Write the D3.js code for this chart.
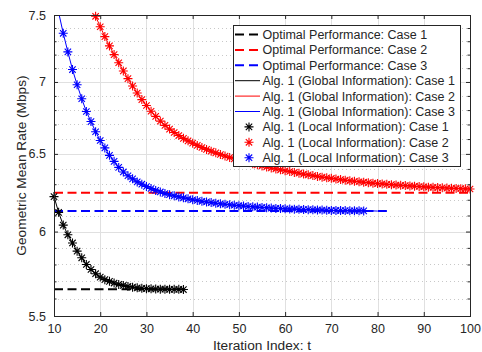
<!DOCTYPE html>
<html>
<head>
<meta charset="utf-8">
<script src="https://cdn.jsdelivr.net/npm/d3@7"></script>
<style>
  body { margin: 0; background: #fff; }
  text { font-family: "Liberation Sans", Arial, sans-serif; fill: #262626; }
</style>
</head>
<body>
<div class="chart"></div>
<script>
// value at each iteration, starting at the given index
const case1Start = 10;
const case1Rate = [6.22, 6.12, 6.04, 5.98, 5.93, 5.88, 5.84, 5.80, 5.77, 5.745,
  5.725, 5.71, 5.70, 5.69, 5.682, 5.676, 5.67, 5.666, 5.662, 5.659,
  5.657, 5.656, 5.655, 5.654, 5.654, 5.653, 5.653, 5.653, 5.652];

const case2Start = 17;
const case2Rate = [7.69, 7.59, 7.49, 7.41, 7.335, 7.265, 7.20, 7.14, 7.08, 7.024,
  6.971, 6.921, 6.874, 6.832, 6.792, 6.756, 6.723, 6.694, 6.668, 6.645,
  6.624, 6.605, 6.588, 6.572, 6.557, 6.543, 6.53, 6.518, 6.507, 6.496,
  6.486, 6.476, 6.467, 6.458, 6.45, 6.442, 6.434, 6.427, 6.42, 6.413,
  6.406, 6.40, 6.394, 6.388, 6.383, 6.377, 6.372, 6.366, 6.361, 6.356,
  6.351, 6.346, 6.342, 6.338, 6.334, 6.33, 6.326, 6.322, 6.319, 6.316,
  6.313, 6.31, 6.307, 6.304, 6.302, 6.299, 6.297, 6.295, 6.293, 6.291,
  6.289, 6.287, 6.285, 6.283, 6.281, 6.28, 6.278, 6.277, 6.275, 6.274,
  6.273, 6.271, 6.27, 6.269];

const case3Start = 10;
const case3Rate = [7.69, 7.52, 7.36, 7.22, 7.09, 6.98, 6.88, 6.79, 6.72, 6.65,
  6.59, 6.54, 6.49, 6.45, 6.41, 6.38, 6.355, 6.335, 6.315, 6.30,
  6.285, 6.272, 6.26, 6.25, 6.24, 6.232, 6.225, 6.218, 6.212, 6.206,
  6.20, 6.195, 6.19, 6.186, 6.182, 6.178, 6.174, 6.171, 6.168, 6.165,
  6.162, 6.16, 6.157, 6.155, 6.153, 6.151, 6.149, 6.147, 6.145, 6.144,
  6.142, 6.141, 6.14, 6.139, 6.138, 6.137, 6.136, 6.135, 6.134, 6.133,
  6.132, 6.132, 6.131, 6.131, 6.13, 6.13, 6.13, 6.129, 6.129, 6.129,
  6.128, 6.128, 6.128];
const case3LocalEnd = 77;

// optimal levels and how far each dashed line runs
const optimalRate = [5.653, 6.245, 6.128];
const optimalEnd = [38, 100, 82];
const caseColors = ["#000000", "#ff0000", "#0000ff"];

const xTicks = [10, 20, 30, 40, 50, 60, 70, 80, 90, 100];
const yTicks = [5.5, 6, 6.5, 7, 7.5];
const yMinor = [5.6, 5.7, 5.8, 5.9, 6.1, 6.2, 6.3, 6.4, 6.6, 6.7, 6.8, 6.9, 7.1, 7.2, 7.3, 7.4];

const legendLabels = [
  "Optimal Performance: Case 1", "Optimal Performance: Case 2", "Optimal Performance: Case 3",
  "Alg. 1 (Global Information): Case 1", "Alg. 1 (Global Information): Case 2", "Alg. 1 (Global Information): Case 3",
  "Alg. 1 (Local Information): Case 1", "Alg. 1 (Local Information): Case 2", "Alg. 1 (Local Information): Case 3"
];

var width = 482, height = 352;
var pLeft = 54, pRight = 470, pTop = 15, pBottom = 316;

var svg = d3.select(".chart").append("svg")
  .attr("width", width).attr("height", height);

var x = d3.scaleLinear().domain([10, 100]).range([pLeft, pRight]);
var y = d3.scaleLog().domain([5.5, 7.5]).range([pBottom, pTop]);

// grid
var grid = svg.append("g");
grid.selectAll(".vg").data(xTicks.slice(1, -1)).enter().append("line")
  .attr("x1", d => Math.round(x(d)) + 0.5).attr("x2", d => Math.round(x(d)) + 0.5)
  .attr("y1", pTop).attr("y2", pBottom)
  .attr("stroke", "#e0e0e0").attr("stroke-width", 1);
grid.selectAll(".mg").data(yMinor).enter().append("line")
  .attr("x1", pLeft).attr("x2", pRight)
  .attr("y1", d => Math.round(y(d)) + 0.5).attr("y2", d => Math.round(y(d)) + 0.5)
  .attr("stroke", "#c8c8c8").attr("stroke-width", 1).attr("stroke-dasharray", "1,3");
grid.selectAll(".hg").data(yTicks.slice(1, -1)).enter().append("line")
  .attr("x1", pLeft).attr("x2", pRight)
  .attr("y1", d => Math.round(y(d)) + 0.5).attr("y2", d => Math.round(y(d)) + 0.5)
  .attr("stroke", "#e0e0e0").attr("stroke-width", 1);

// series
svg.append("clipPath").attr("id", "plot").append("rect")
  .attr("x", pLeft).attr("y", pTop).attr("width", pRight - pLeft).attr("height", pBottom - pTop);

var plot = svg.append("g").attr("clip-path", "url(#plot)");

var series = [
  { start: case1Start, values: case1Rate, localEnd: 38 },
  { start: case2Start, values: case2Rate, localEnd: 100 },
  { start: case3Start, values: case3Rate, localEnd: case3LocalEnd }
].map(s => ({
  points: s.values.map((v, i) => ({ t: s.start + i, v: v })),
  localEnd: s.localEnd
}));

// optimal performance (dashed)
optimalRate.forEach((v, k) => {
  plot.append("line")
    .attr("x1", x(10)).attr("x2", x(optimalEnd[k]))
    .attr("y1", y(v)).attr("y2", y(v))
    .attr("stroke", caseColors[k]).attr("stroke-width", 2)
    .attr("stroke-dasharray", "9,4.5");
});

// global information (solid)
var line = d3.line().x(d => x(d.t)).y(d => y(d.v));
series.forEach((s, k) => {
  plot.append("path").datum(s.points)
    .attr("d", line).attr("fill", "none")
    .attr("stroke", caseColors[k]).attr("stroke-width", 1);
});

// local information (asterisks)
var star = "M-4.5,0H4.5M0,-4.5V4.5M-3.2,-3.2L3.2,3.2M-3.2,3.2L3.2,-3.2";
series.forEach((s, k) => {
  svg.append("g").selectAll("path")
    .data(s.points.filter(d => d.t <= s.localEnd && d.v <= 7.5))
    .enter().append("path")
    .attr("d", star)
    .attr("transform", d => "translate(" + x(d.t) + "," + y(d.v) + ")")
    .attr("fill", "none").attr("stroke", caseColors[k]).attr("stroke-width", 1.1);
});

// axes box and ticks (MATLAB style, inward)
var axisColor = "#262626";
svg.append("g").attr("transform", "translate(0," + pBottom + ")")
  .call(d3.axisBottom(x).tickValues(xTicks).tickSizeInner(-4).tickSizeOuter(0).tickPadding(8))
  .call(g => g.selectAll("text").attr("font-size", "12.5px").style("fill", axisColor));
svg.append("g").attr("transform", "translate(0," + pTop + ")")
  .call(d3.axisTop(x).tickValues(xTicks).tickSizeInner(-4).tickSizeOuter(0).tickFormat(""));
svg.append("g").attr("transform", "translate(" + pLeft + ",0)")
  .call(d3.axisLeft(y).tickValues(yTicks).tickSizeInner(-4).tickSizeOuter(0).tickPadding(8)
    .tickFormat(d3.format("~g")))
  .call(g => g.selectAll("text").attr("font-size", "12.5px").style("fill", axisColor));
svg.append("g").attr("transform", "translate(" + pRight + ",0)")
  .call(d3.axisRight(y).tickValues(yTicks).tickSizeInner(-4).tickSizeOuter(0).tickFormat(""));
svg.append("g").attr("transform", "translate(" + pLeft + ",0)")
  .call(d3.axisLeft(y).tickValues(yMinor).tickSizeInner(-2.5).tickSizeOuter(0).tickFormat(""));
svg.append("g").attr("transform", "translate(" + pRight + ",0)")
  .call(d3.axisRight(y).tickValues(yMinor).tickSizeInner(-2.5).tickSizeOuter(0).tickFormat(""));
svg.selectAll(".domain").remove();
svg.selectAll(".tick line").attr("stroke", axisColor);
svg.selectAll(".tick text").attr("font-family", "Liberation Sans, Arial, sans-serif");

svg.append("rect")
  .attr("x", pLeft + 0.5).attr("y", pTop + 0.5)
  .attr("width", pRight - pLeft).attr("height", pBottom - pTop)
  .attr("fill", "none").attr("stroke", axisColor).attr("stroke-width", 1);

// axis labels
svg.append("text")
  .attr("x", (pLeft + pRight) / 2).attr("y", 350)
  .attr("text-anchor", "middle").attr("font-size", "13.7px")
  .text("Iteration Index: t");
svg.append("text")
  .attr("transform", "translate(26," + (pTop + pBottom) / 2 + ") rotate(-90)")
  .attr("text-anchor", "middle").attr("font-size", "13.7px")
  .text("Geometric Mean Rate (Mbps)");

// legend
var lg = svg.append("g").attr("transform", "translate(233,25)");
lg.append("rect").attr("x", 0.5).attr("y", 0.5).attr("width", 227).attr("height", 141)
  .attr("fill", "#fff").attr("stroke", axisColor).attr("stroke-width", 1);

var rowY = d => 9.5 + d * 15.4;
legendLabels.forEach((label, i) => {
  var k = i % 3, kind = Math.floor(i / 3), yy = rowY(i);
  if (kind === 0) {
    lg.append("line").attr("x1", 2).attr("x2", 26).attr("y1", yy).attr("y2", yy)
      .attr("stroke", caseColors[k]).attr("stroke-width", 2).attr("stroke-dasharray", "9,5");
  } else if (kind === 1) {
    lg.append("line").attr("x1", 2).attr("x2", 27).attr("y1", yy).attr("y2", yy)
      .attr("stroke", caseColors[k]).attr("stroke-width", 1);
  } else {
    lg.append("path").attr("d", star).attr("transform", "translate(16," + yy + ")")
      .attr("fill", "none").attr("stroke", caseColors[k]).attr("stroke-width", 1.1);
  }
  lg.append("text").attr("x", 29.5).attr("y", yy).attr("dy", "0.36em")
    .attr("font-size", "12.5px").text(label);
});
</script>
</body>
</html>
